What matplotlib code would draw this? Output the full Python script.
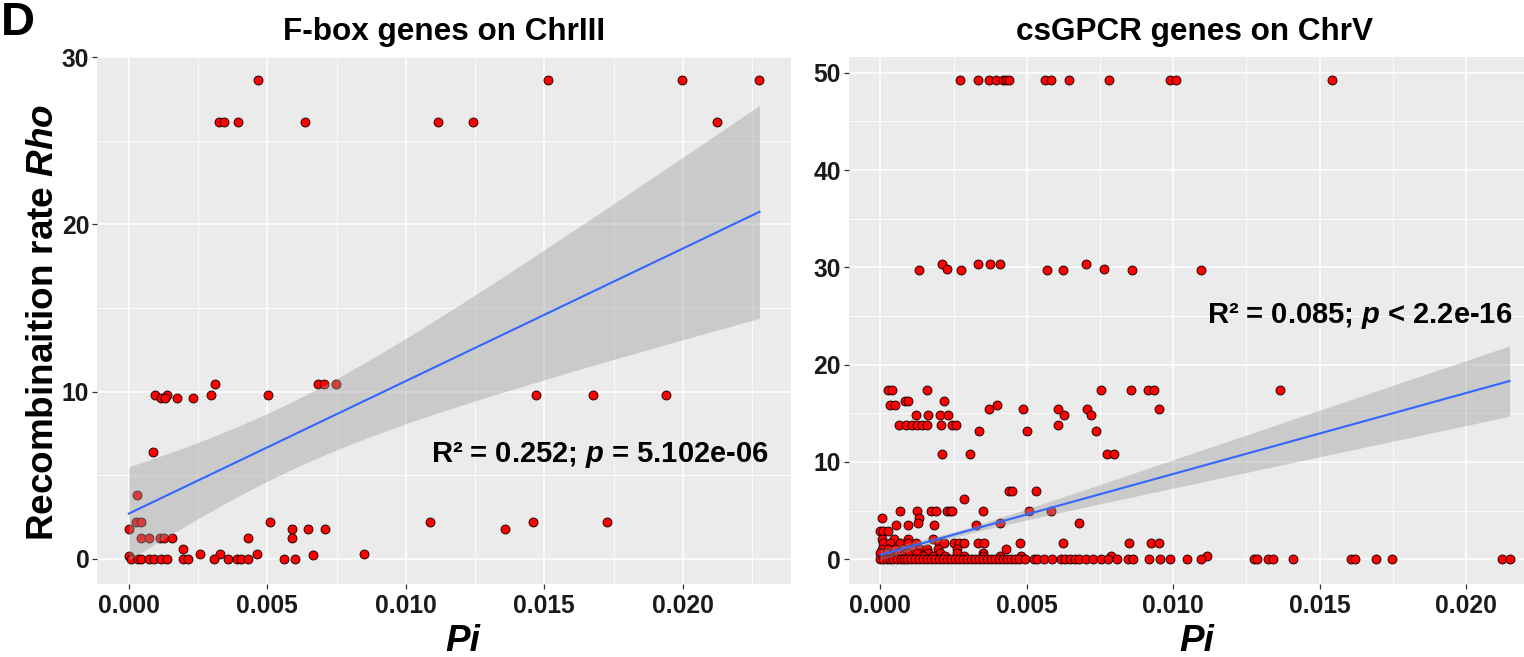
import numpy as np
import matplotlib
matplotlib.use("Agg")
import matplotlib.pyplot as plt

plt.rcParams['font.family'] = ['Liberation Sans', 'DejaVu Sans']
plt.rcParams['mathtext.fontset'] = 'custom'
plt.rcParams['mathtext.rm'] = 'Liberation Sans:bold'
plt.rcParams['mathtext.bf'] = 'Liberation Sans:bold'
plt.rcParams['mathtext.it'] = 'Liberation Sans:italic:bold'

# F-box genes on ChrIII : Pi (x) and Rho (y)
fbox_pi = [0.00467, 0.01515, 0.01997, 0.02277,
           0.00326, 0.00342, 0.00393, 0.00637, 0.01118, 0.01244, 0.02122,
           0.0031, 0.00683, 0.00705, 0.00749,
           0.00095, 0.00137, 0.00298, 0.00504, 0.01471, 0.01676, 0.01939,
           0.00115, 0.00131, 0.00173, 0.00233,
           0.00087, 0.00028,
           0.00025, 0.00043, 0.00511, 0.01088, 0.0146, 0.01728,
           0.0, 0.0059, 0.00648, 0.00708, 0.01359,
           0.00045, 0.00074, 0.00113, 0.00127, 0.00155, 0.0043, 0.0059,
           0.00195,
           0.00256, 0.00328, 0.00464, 0.00664, 0.00849,
           0.0,
           0.00007, 0.00034, 0.00044, 0.00074, 0.00091, 0.00115, 0.00139, 0.00195,
           0.00215, 0.00309, 0.00359, 0.0039, 0.00405, 0.00429, 0.00561, 0.00599]
fbox_rho = [28.6, 28.6, 28.6, 28.6,
            26.1, 26.1, 26.1, 26.1, 26.1, 26.1, 26.1,
            10.45, 10.45, 10.45, 10.45,
            9.78, 9.78, 9.78, 9.78, 9.78, 9.78, 9.78,
            9.62, 9.62, 9.62, 9.62,
            6.4, 3.82,
            2.2, 2.2, 2.2, 2.2, 2.2, 2.2,
            1.81, 1.81, 1.81, 1.81, 1.81,
            1.26, 1.26, 1.26, 1.26, 1.26, 1.26, 1.26,
            0.6,
            0.3, 0.3, 0.3, 0.25, 0.3,
            0.16,
            0, 0, 0, 0, 0, 0, 0, 0,
            0, 0, 0, 0, 0, 0, 0, 0]

# csGPCR genes on ChrV
gpcr_pi = [0.00272, 0.00334, 0.00371, 0.00396, 0.0042, 0.00428, 0.00438, 0.00562, 0.00583,
           0.00643, 0.0078, 0.00988, 0.0101, 0.01541,
           0.00212, 0.00333, 0.00374, 0.00408, 0.00701,
           0.00229, 0.00763,
           0.00132, 0.00277, 0.0057, 0.00624, 0.0086, 0.01095,
           0.00027, 0.00039, 0.00158, 0.00753, 0.00855, 0.00915, 0.00934, 0.01364,
           0.00085, 0.00096, 0.00216,
           0.00033, 0.0005, 0.00397,
           0.00372, 0.00487, 0.00608, 0.00705, 0.00953,
           0.00122, 0.00163, 0.00203, 0.0023, 0.00626, 0.0072,
           0.00065, 0.00088, 0.00109, 0.00126, 0.00142, 0.00159, 0.00207, 0.00246, 0.00258, 0.00606,
           0.00337, 0.005, 0.00735,
           0.00212, 0.00305, 0.00774, 0.00797,
           0.0044, 0.00451, 0.00533,
           0.00285,
           0.00068, 0.00126, 0.00172, 0.00191, 0.00227, 0.00238, 0.00246, 0.0035, 0.00509, 0.00584,
           0.00006, 0.00131,
           0.00128, 0.00408, 0.00679,
           0.00052, 0.00096, 0.00182, 0.00328,
           0.0, 0.0001, 0.00027,
           0.00006, 0.00046, 0.00096, 0.0018,
           0.00008, 0.00033, 0.00067, 0.00096, 0.00122, 0.002, 0.00218, 0.00252, 0.0027, 0.00286,
           0.00335, 0.00354, 0.00478, 0.00623, 0.0085, 0.00923, 0.00952,
           0.00005, 0.00027, 0.0005, 0.00079, 0.00107, 0.00136, 0.0016, 0.00196, 0.00261, 0.0043,
           0.0, 0.00022, 0.00061, 0.0009, 0.00124, 0.00164, 0.00204, 0.00261, 0.00352,
           0.00031, 0.00075, 0.00147, 0.00181, 0.00222, 0.00286, 0.00351, 0.0041, 0.00479, 0.00786,
           0.01115,
           0.0, 0.0001, 0.00022, 0.00033, 0.00044, 0.00056, 0.0007, 0.00081, 0.00092, 0.00105,
           0.00117, 0.00131, 0.00145, 0.00158, 0.00172, 0.00186, 0.00199, 0.00213, 0.00227, 0.0024,
           0.00254, 0.00268, 0.00281, 0.00295, 0.00309, 0.00322, 0.00336, 0.0035, 0.00363, 0.00377,
           0.00391, 0.00404, 0.00418, 0.00432, 0.00445, 0.00459, 0.00473, 0.00495, 0.00525, 0.00536,
           0.00558, 0.00587, 0.00616, 0.00631, 0.00647, 0.00664, 0.00678, 0.00701, 0.00725, 0.00752,
           0.00776, 0.00807, 0.00845, 0.00864, 0.00918, 0.00954, 0.00989, 0.01046,
           0.01094, 0.01275, 0.01287, 0.01324, 0.01339, 0.01408, 0.01608, 0.0162, 0.01692, 0.01747,
           0.02123, 0.02148]
gpcr_rho = [49.2] * 14 + [30.3] * 5 + [29.85] * 2 + [29.7] * 6 + [17.4] * 8 + [16.3] * 3 \
    + [15.85] * 3 + [15.4] * 5 + [14.8] * 6 + [13.8] * 10 + [13.15] * 3 + [10.84] * 4 \
    + [7.0] * 3 + [6.2] + [5.0] * 10 + [4.25] * 2 + [3.73] * 3 + [3.5] * 4 + [2.88] * 3 \
    + [2.1] * 4 + [1.65] * 17 + [1.07] * 10 + [0.66] * 9 + [0.38] * 10 + [0.33] \
    + [0.0] * 58 + [0.0] * 12

# ChrV hides hundreds of overplotted genes near the origin, so its lm fit
# (line and 95% band) is read off the figure instead of refitted
gpcr_fit = dict(intercept=0.45, slope=832, half_at_mean=0.3, mean_pi=0.0025, half_growth=190)

panel_titles = ["F-box genes on ChrIII", "csGPCR genes on ChrV"]
stat_labels = [r"R² = 0.252; $\mathit{p}$ = 5.102e-06",
               r"R² = 0.085; $\mathit{p}$ < 2.2e-16"]
stat_pos = [(0.0170, 5.78), (0.01638, 24.3)]
x_ticks = [0.0, 0.005, 0.010, 0.015, 0.020]
x_tick_labels = ["0.000", "0.005", "0.010", "0.015", "0.020"]
y_ticks = [[0, 10, 20, 30], [0, 10, 20, 30, 40, 50]]


def t975(df):
    z = 1.959964
    return z + (z**3 + z) / (4 * df) + (5 * z**5 + 16 * z**3 + 3 * z) / (96 * df**2)


def smooth(x, y):
    x = np.asarray(x)
    y = np.asarray(y)
    n = len(x)
    b, a = np.polyfit(x, y, 1)
    resid = y - (a + b * x)
    s = np.sqrt(np.sum(resid**2) / (n - 2))
    sxx = np.sum((x - x.mean())**2)
    xs = np.linspace(x.min(), x.max(), 80)
    fit = a + b * xs
    half = t975(n - 2) * s * np.sqrt(1 / n + (xs - x.mean())**2 / sxx)
    return xs, fit, fit - half, fit + half


def smooth_read(x, p):
    xs = np.linspace(min(x), max(x), 80)
    fit = p['intercept'] + p['slope'] * xs
    half = np.sqrt(p['half_at_mean']**2 + (p['half_growth'] * (xs - p['mean_pi']))**2)
    return xs, fit, fit - half, fit + half


fig = plt.figure(figsize=(15.24, 6.57), dpi=100)
axes = [fig.add_axes([0.06385, 0.1105, 0.45518, 0.8035]),
        fig.add_axes([0.55696, 0.1105, 0.45420, 0.8035])]
data = [(fbox_pi, fbox_rho), (gpcr_pi, gpcr_rho)]
xlabel_x = [0.527, 0.503]

for i, ax in enumerate(axes):
    px, rho = data[i]
    ax.set_facecolor('#EBEBEB')
    ax.scatter(px, rho, s=42, facecolor='#FF0000', edgecolor='black', linewidth=0.6, zorder=2)
    if i == 0:
        xs, fit, lo, hi = smooth(px, rho)
    else:
        xs, fit, lo, hi = smooth_read(px, gpcr_fit)
    ax.fill_between(xs, lo, hi, color='#999999', alpha=0.4, linewidth=0, zorder=3)
    ax.plot(xs, fit, color='#3366FF', lw=1.5, zorder=4)

    ax.set_xticks(x_ticks)
    ax.set_xticklabels(x_tick_labels)
    ax.set_yticks(y_ticks[i])
    ax.set_yticklabels([str(v) for v in y_ticks[i]])
    ax.set_xticks([0.0025, 0.0075, 0.0125, 0.0175, 0.0225], minor=True)
    ax.set_yticks([v + 5 for v in y_ticks[i]], minor=True)

    # ggplot style 5% expansion around points and ribbon
    ymin = min(min(rho), lo.min())
    ymax = max(max(rho), hi.max())
    xr = max(px) - min(px)
    yr = ymax - ymin
    ax.set_xlim(min(px) - 0.05 * xr, max(px) + 0.05 * xr)
    ax.set_ylim(ymin - 0.05 * yr, ymax + 0.05 * yr)

    ax.grid(True, which='major', color='white', lw=1.1)
    ax.grid(True, which='minor', color='white', lw=0.55)
    ax.set_axisbelow(True)
    for sp in ax.spines.values():
        sp.set_visible(False)
    ax.tick_params(which='major', length=3.6, width=0.9, color='#333333', pad=2.2,
                   labelsize=17.7, labelcolor='#1A1A1A')
    ax.tick_params(which='minor', length=0)
    for lab in ax.get_xticklabels() + ax.get_yticklabels():
        lab.set_fontweight('bold')
    ax.tick_params(axis='x', pad=3)

    ax.set_title(panel_titles[i], fontsize=22.7, fontweight='bold', pad=12)
    ax.text(stat_pos[i][0], stat_pos[i][1], stat_labels[i], fontsize=21, fontweight='bold',
            ha='center', va='baseline', zorder=5)
    ax.text(xlabel_x[i], -0.1255, "Pi", transform=ax.transAxes, fontsize=26.6,
            fontweight='bold', style='italic', ha='center', va='baseline')

fig.text(53 / 1524, 1 - 322.5 / 657, r"Recombinaition rate $\mathit{Rho}$", rotation=90,
         rotation_mode='anchor', ha='center', va='baseline', fontsize=26.6, fontweight='bold')
fig.text(1 / 1524, 1 - 35 / 657, "D", fontsize=34, fontweight='bold', va='baseline')

fig.savefig("out.png", dpi=100)
